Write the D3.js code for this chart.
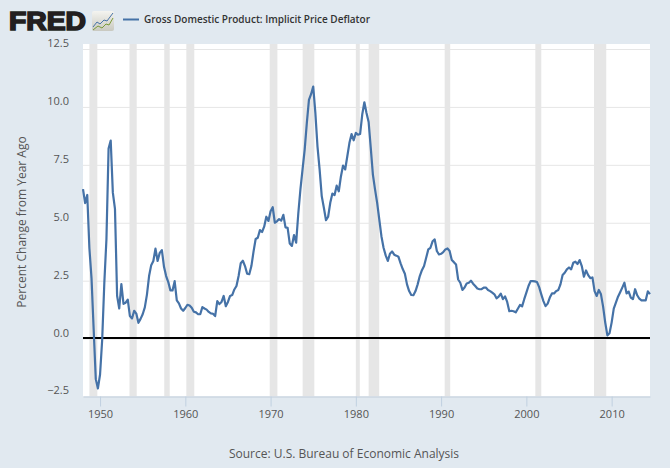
<!DOCTYPE html>
<html><head><meta charset="utf-8">
<script src="https://cdn.jsdelivr.net/npm/d3@7"></script>
<style>html,body{margin:0;padding:0;background:#e1e9f0}svg{display:block}text{font-family:"Open Sans",sans-serif}</style>
</head><body><div id="c"></div>
<script>
const startYear = 1948;
const deflator = [
6.45,5.85,6.2,3.9, 2.6,0.4,-1.75,-2.15, -1.55,-0.05,2.4,4.3,
8.2,8.55,6.3,5.6, 1.85,1.3,2.35,1.5, 1.55,1.68,0.97,0.87,
1.2,1.08,0.68,0.85, 1.05,1.35,1.9,2.7, 3.17,3.35,3.88,3.35,
3.7,3.82,3.1,2.7, 2.44,2.08,2.08,2.48, 1.65,1.52,1.3,1.2,
1.32,1.46,1.43,1.33, 1.16,1.13,1.05,1.05, 1.36,1.3,1.25,1.15,
1.09,1.07,0.97,1.62, 1.49,1.58,1.84,1.4, 1.58,1.84,1.88,2.12,
2.27,2.7,3.25,3.36, 3.13,2.8,2.78,3.13, 3.75,4.3,4.35,4.68,
4.6,4.83,5.26,5.08, 5.5,5.67,5.0,5.06, 5.16,5.09,5.34,4.8,
4.78,4.1,4.0,4.47, 4.14,5.4,6.44,7.3, 8.16,9.3,10.3,10.55,
10.88,9.75,8.3,7.3, 6.15,5.65,5.11,5.26, 5.86,6.26,6.19,6.6,
6.36,7.0,7.47,7.3, 7.87,8.45,8.83,8.56, 8.88,8.8,8.83,9.67,
10.2,9.74,9.35,8.23, 7.08,6.44,5.86,5.14, 4.42,3.92,3.59,3.35,
3.66,3.76,3.62,3.58, 3.53,3.25,3.0,2.8, 2.34,2.05,1.88,1.87,
2.05,2.34,2.7,2.95, 3.13,3.49,3.85,3.92, 4.2,4.28,3.78,3.63,
3.66,3.73,3.85,3.89, 3.78,3.39,3.3,3.2, 2.55,2.41,2.1,2.2,
2.38,2.41,2.5,2.37, 2.27,2.16,2.13,2.13, 2.2,2.2,2.1,2.05,
1.98,1.91,1.74,1.81, 1.94,1.7,1.82,1.58, 1.18,1.2,1.18,1.13,
1.29,1.45,1.39,1.7, 1.98,2.27,2.48,2.48, 2.47,2.44,2.22,1.91,
1.62,1.4,1.51,1.77, 1.95,1.95,2.05,2.1, 2.34,2.74,2.84,2.99,
3.07,2.99,3.27,3.32, 3.22,3.39,3.13,2.67, 2.94,2.74,2.61,2.64,
2.05,1.84,2.1,1.91, 1.38,0.69,0.14,0.23, 0.69,1.29,1.55,1.81,
2.0,2.2,2.41,1.95, 2.03,1.77,1.7,2.13, 1.87,1.72,1.65,1.65,
1.65,2.04,1.92
];
const recessionStart = [1948.75,1953.45,1957.53,1960.12,1969.9,1973.76,1980.0,1981.5,1990.42,2001.05,2007.93];
const recessionEnd   = [1949.68,1954.3,1958.17,1961.05,1970.8,1975.13,1980.46,1982.74,1991.07,2001.75,2009.37];
const yTicks = [-2.5,0,2.5,5,7.5,10,12.5];
const xTicks = [1950,1960,1970,1980,1990,2000,2010];
const seriesName = "Gross Domestic Product: Implicit Price Deflator";
const yTitle = "Percent Change from Year Ago";
const source = "Source: U.S. Bureau of Economic Analysis";

const W=670,H=468,L=83,R=650,T=49,B=396.5;
const svg=d3.select("#c").append("svg").attr("width",W).attr("height",H);
svg.append("rect").attr("width",W).attr("height",H).attr("fill","#e1e9f0");
const x=d3.scaleLinear().domain([1948,2014.5]).range([L,R]);
const y=d3.scaleLinear().domain([-2.5,12.5]).range([B,T]);
const plotTop=44;
svg.append("rect").attr("x",L).attr("y",plotTop).attr("width",R-L).attr("height",B-plotTop).attr("fill","#fff");
svg.selectAll(".rec").data(recessionStart).join("rect").attr("class","rec")
 .attr("x",d=>x(d)).attr("width",(d,i)=>x(recessionEnd[i])-x(d))
 .attr("y",plotTop).attr("height",B-plotTop).attr("fill","#e6e6e6");
const gy=svg.append("g").attr("transform",`translate(${L},0)`)
 .call(d3.axisLeft(y).tickValues(yTicks).tickSize(-(R-L)).tickFormat(d3.format(".1f")));
gy.select(".domain").remove();
gy.selectAll("line").attr("stroke","#e6e6e6").attr("stroke-width",1);
gy.selectAll("text").attr("x",-14).attr("dy","-0.23em").attr("text-anchor","end").attr("fill","#555").attr("font-size",11);
const gx=svg.append("g").attr("transform",`translate(0,${B})`)
 .call(d3.axisBottom(x).tickValues(xTicks).tickSize(10).tickSizeOuter(0).tickFormat(d3.format("d")));
gx.select(".domain").attr("stroke","#c0d0e0");
gx.selectAll("line").attr("stroke","#c0d0e0");
gx.selectAll("text").attr("y",14).attr("fill","#555").attr("font-size",11);
svg.append("line").attr("x1",L).attr("x2",R).attr("y1",y(0)-0.5).attr("y2",y(0)-0.5).attr("stroke","#000").attr("stroke-width",2);
const line=d3.line().x((d,i)=>x(startYear+i/4)).y(d=>y(d));
svg.append("path").datum(deflator).attr("d",line).attr("fill","none").attr("stroke","#4572a7").attr("stroke-width",2.2).attr("stroke-linejoin","round");
svg.append("text").attr("transform","translate(26,222) rotate(-90)").attr("text-anchor","middle").attr("fill","#555").attr("font-size",12).text(yTitle);
svg.append("text").attr("x",344).attr("y",458).attr("text-anchor","middle").attr("fill","#555").attr("font-size",12).text(source);
// legend
svg.append("line").attr("x1",123).attr("x2",139).attr("y1",19.5).attr("y2",19.5).attr("stroke","#4572a7").attr("stroke-width",2);
svg.append("text").attr("x",144).attr("y",23).attr("fill","#333").attr("font-size",10).attr("font-weight",600).attr("textLength",226).text(seriesName);
// FRED logo
svg.append("text").attr("x",9).attr("y",30.3).attr("font-size",25).attr("font-weight",700).attr("fill","#231f20").attr("stroke","#231f20").attr("stroke-width",1.6)
 .attr("textLength",77).attr("lengthAdjust","spacingAndGlyphs").style("font-family","'Liberation Sans',sans-serif").text("FRED");
const grad=svg.append("defs").append("linearGradient").attr("id","lg").attr("x1",0).attr("y1",0).attr("x2",0).attr("y2",1);
grad.append("stop").attr("offset",0).attr("stop-color","#f4f4f0");grad.append("stop").attr("offset",1).attr("stop-color","#c9c9c0");
svg.append("rect").attr("x",92).attr("y",11).attr("width",22).attr("height",20).attr("rx",2).attr("fill","url(#lg)");
const logoLine=d3.line();
svg.append("path").attr("d",logoLine([[93,27],[97,22],[100,24],[104,20],[107,21],[113,13]])).attr("fill","none").attr("stroke","#4572a7").attr("stroke-width",1);
svg.append("path").attr("d",logoLine([[93,30],[98,26],[102,28],[106,24],[109,25],[113,18]])).attr("fill","none").attr("stroke","#7a9a3a").attr("stroke-width",1);
</script></body></html>
